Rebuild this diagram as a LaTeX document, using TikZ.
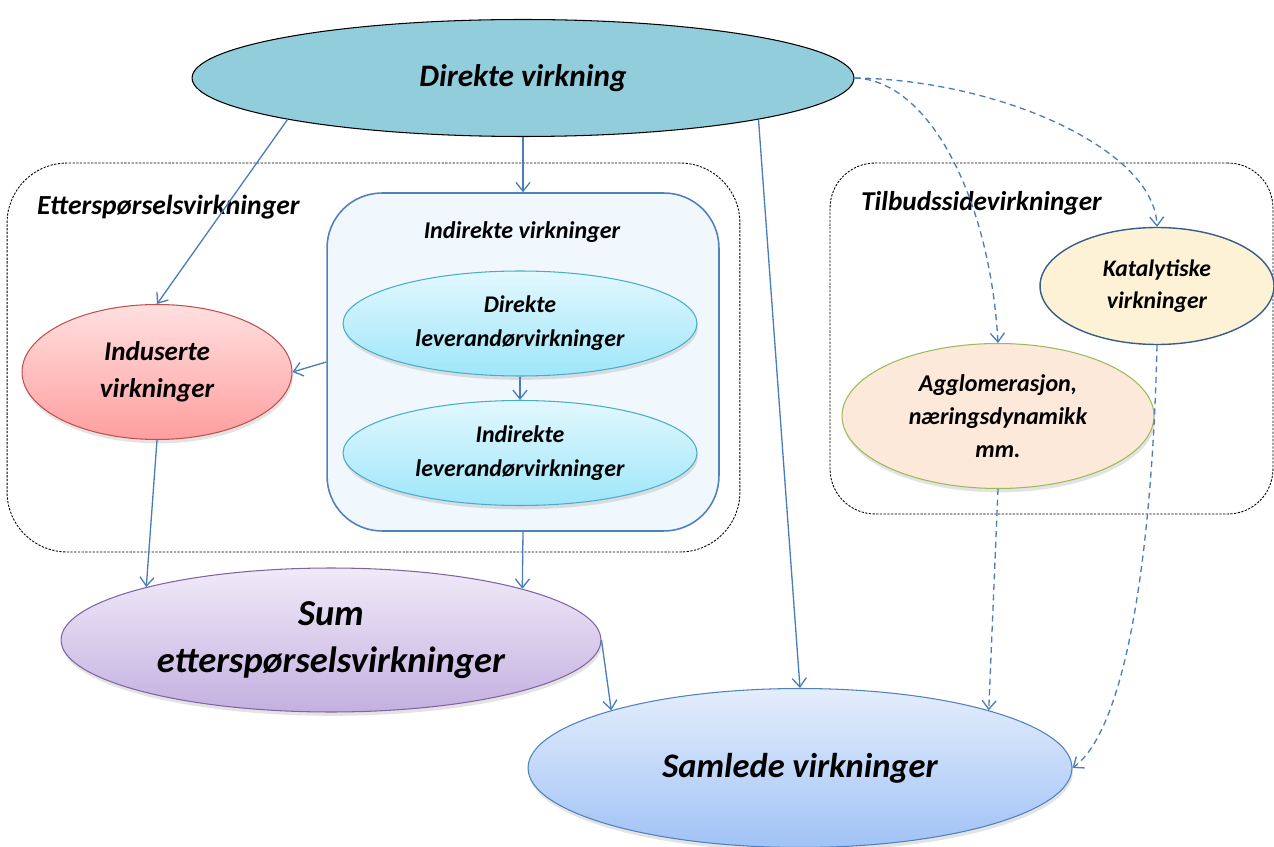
\documentclass[tikz,border=0pt]{standalone}
\usepackage{fontspec}
\setmainfont{Carlito}
\usetikzlibrary{shapes.geometric,arrows.meta,shadows}

\definecolor{linkblue}{RGB}{74,126,187}
\definecolor{topfill}{RGB}{146,205,220}
\definecolor{boxfill}{RGB}{240,247,253}
\definecolor{boxline}{RGB}{79,129,189}
\definecolor{indtop}{RGB}{255,224,224}
\definecolor{indbot}{RGB}{255,158,158}
\definecolor{indline}{RGB}{192,80,77}
\definecolor{levtop}{RGB}{226,248,254}
\definecolor{levbot}{RGB}{158,230,250}
\definecolor{levline}{RGB}{75,172,198}
\definecolor{sumtop}{RGB}{240,234,248}
\definecolor{sumbot}{RGB}{196,176,224}
\definecolor{sumline}{RGB}{128,100,162}
\definecolor{samtop}{RGB}{228,238,252}
\definecolor{sambot}{RGB}{160,194,246}
\definecolor{katfill}{RGB}{253,242,214}
\definecolor{katline}{RGB}{56,93,138}
\definecolor{aggfill}{RGB}{252,233,218}
\definecolor{aggline}{RGB}{155,187,89}

\newcommand{\sizeset}[2]{\fontsize{#1}{#2}\selectfont\bfseries\itshape}

\begin{document}
\begin{tikzpicture}[
  x=0.02cm,y=-0.02cm,
  eff/.style={ellipse, draw, inner sep=0pt, align=center, line width=0.6pt},
  shade/.style={drop shadow={shadow xshift=0.6pt, shadow yshift=-2.2pt, opacity=0.22}},
  grp/.style={draw=black, line width=0.5pt, dash pattern=on 1.3pt off 0.8pt, rounded corners=1.2cm, inner sep=0pt},
  arr/.style={-{Straight Barb[length=5pt,width=8pt]}, draw=linkblue, line width=0.75pt},
  darr/.style={arr, dash pattern=on 3.5pt off 2.5pt}
]
\useasboundingbox (0,0) rectangle (1274,847);

% groups
\node[grp, minimum width=14.66cm, minimum height=7.78cm] (dem) at (373.5,357.5) {};
\node[grp, rounded corners=0.9cm, minimum width=8.86cm, minimum height=7.02cm] (tilb) at (1051.5,338.5) {};
\node[draw=boxline, fill=boxfill, rounded corners=1.1cm, line width=0.9pt, minimum width=7.84cm, minimum height=6.76cm] (indbox) at (523,362) {};

\node[font={\sizeset{15.7}{18}}, anchor=west] (demlbl) at (31,207) {Etterspørselsvirkninger};
\node[font={\sizeset{15.5}{18}}, anchor=west] (tilblbl) at (855,203) {Tilbudssidevirkninger};
\node[font={\sizeset{13.7}{16}}] (indlbl) at (522,232) {Indirekte virkninger};

% effects
\node[eff, fill=topfill, draw=black, minimum width=13.24cm, minimum height=2.34cm, font={\sizeset{17.8}{21}}] (dv) at (523,78) {Direkte virkning};
\node[eff, shade, top color=indtop, bottom color=indbot, draw=indline, minimum width=5.4cm, minimum height=2.7cm, font={\sizeset{15.4}{21}}] (ind) at (157,372) {Induserte\\virkninger};
\node[eff, shade, top color=levtop, bottom color=levbot, draw=levline, minimum width=7.08cm, minimum height=2.1cm, font={\sizeset{13.6}{19.3}}] (dlev) at (520,323.5) {Direkte\\leverandørvirkninger};
\node[eff, shade, top color=levtop, bottom color=levbot, draw=levline, minimum width=7.08cm, minimum height=2.1cm, font={\sizeset{13.6}{19.3}}] (ilev) at (520,453) {Indirekte\\leverandørvirkninger};
\node[eff, shade, top color=sumtop, bottom color=sumbot, draw=sumline, minimum width=10.8cm, minimum height=2.88cm, font={\sizeset{20.8}{26.7}}] (sum) at (331,640) {Sum\\etterspørselsvirkninger};
\node[eff, shade, top color=samtop, bottom color=sambot, draw=boxline, minimum width=10.88cm, minimum height=3.18cm, font={\sizeset{19.6}{23}}] (sam) at (800,768) {Samlede virkninger};
\node[eff, fill=katfill, draw=katline, line width=0.8pt, minimum width=4.68cm, minimum height=2.34cm, font={\sizeset{13.5}{18.2}}] (kat) at (1157,286) {Katalytiske\\virkninger};
\node[eff, shade, fill=aggfill, draw=aggline, minimum width=6.24cm, minimum height=2.9cm, font={\sizeset{13.7}{18.8}}] (agg) at (998,416) {Agglomerasjon,\\næringsdynamikk\\mm.};

% links
\draw[arr] (dv.190) -- (ind.north);
\draw[arr] (dv.south) -- (indbox.north);
\draw[arr] (dv.350) -- (sam.north);
\draw[arr] (indbox.west) -- (ind.east);
\draw[arr] (dlev.south) -- (ilev.north);
\draw[arr] (ind.south) -- (sum.164);
\draw[arr] (indbox.south) -- (sum.15);
\draw[arr] (sum.east) -- (sam.163);
\draw[darr] (dv.east) .. controls (930,80) and (990,200) .. (agg.north);
\draw[darr] (dv.east) .. controls (1000,80) and (1155,150) .. (kat.north);
\draw[darr] (agg.south) -- (sam.17);
\draw[darr] (kat.south) .. controls (1152,560) and (1125,730) .. (sam.east);
\end{tikzpicture}
\end{document}
